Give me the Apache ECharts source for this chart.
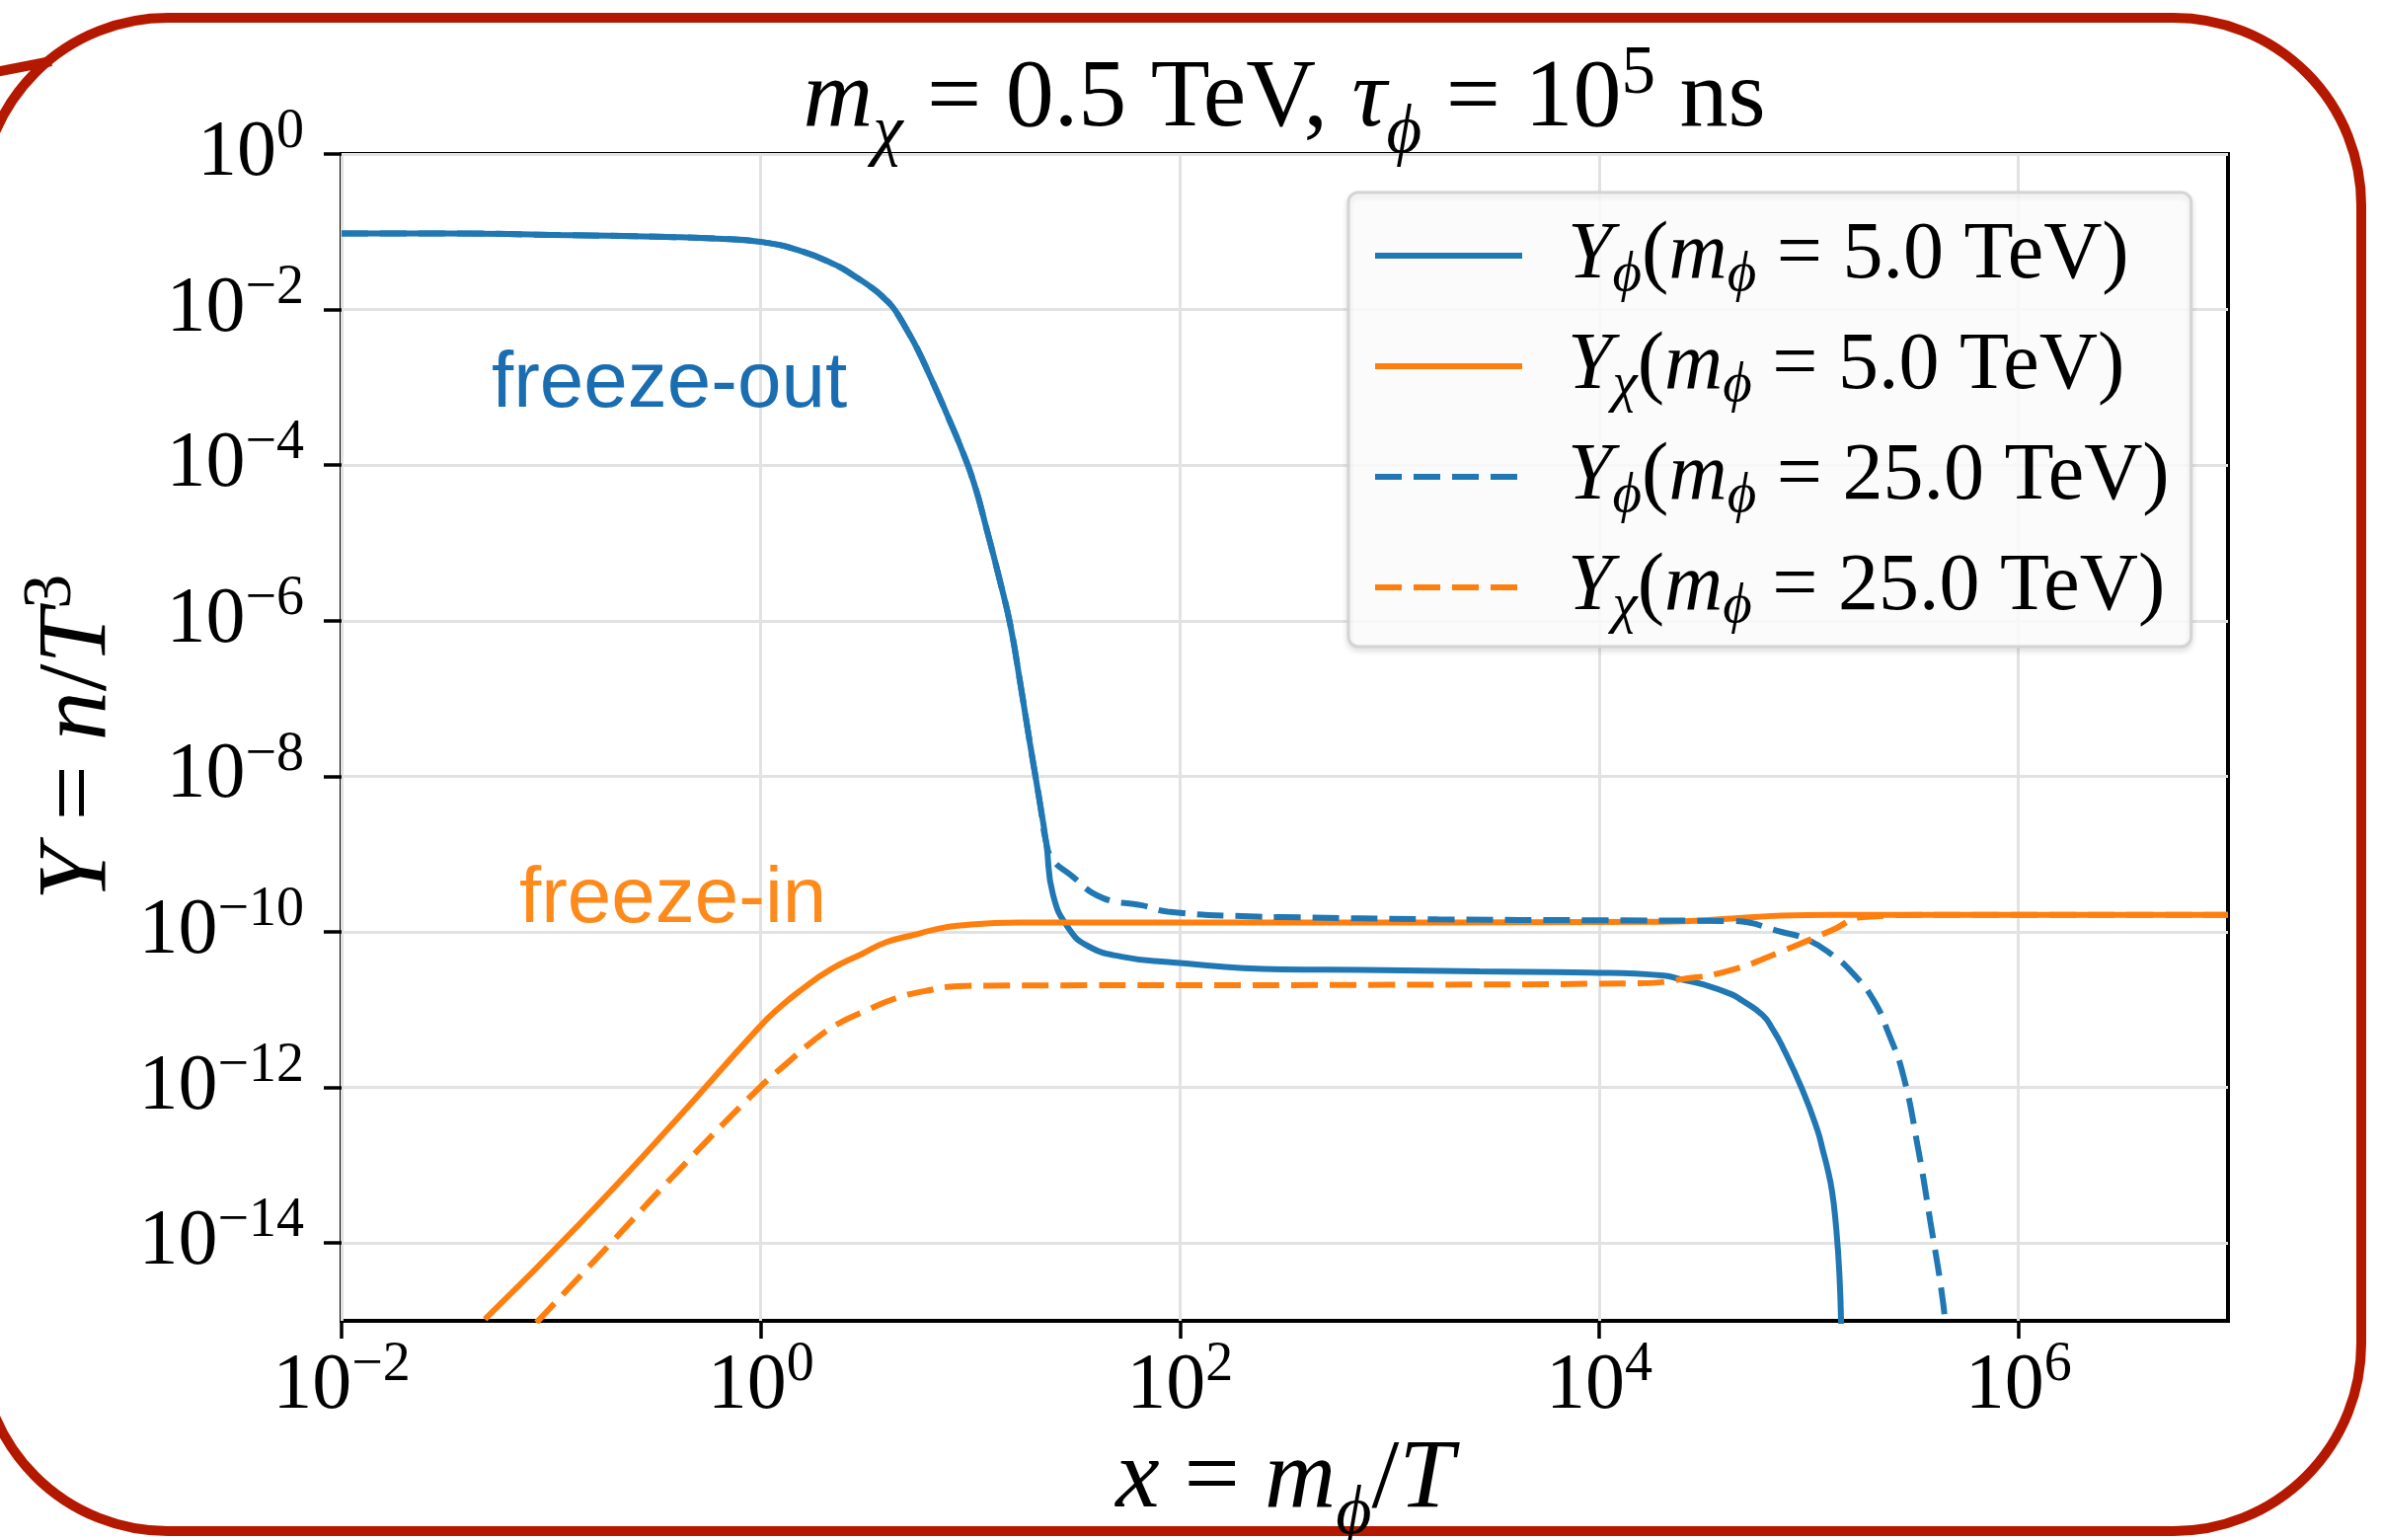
<!DOCTYPE html>
<html>
<head>
<meta charset="utf-8">
<script src="https://cdn.jsdelivr.net/npm/echarts@6/dist/echarts.min.js"></script>
<style>html,body{margin:0;padding:0;background:#fff}#chart{width:2412px;height:1560px}</style>
</head>
<body>
<div id="chart"></div>
<script>
// ---- data (x = m_phi/T, Y = n/T^3) ----
const phi5X = [0.01, 0.0316, 0.1, 0.355, 0.66, 1.0, 1.51, 2.29, 2.8, 3.47, 3.9, 4.27, 4.57, 5.0, 5.62, 6.31, 7.08, 7.94, 8.91, 10.4, 12.0, 13.9, 15.5, 17.2, 19.2, 21.4, 23.0, 24.8, 29.5, 36.7, 52.7, 87.5, 309, 741, 2690, 8900, 2.04e4, 2.45e4, 3.09e4, 4.27e4, 4.79e4, 6.03e4, 6.76e4, 7.41e4, 9.33e4, 1.1e5, 1.17e5, 1.23e5, 1.29e5, 1.34e5, 1.40e5, 1.43e5];
const phi5Y = [0.0955, 0.0955, 0.0912, 0.0861, 0.0813, 0.0741, 0.0582, 0.0372, 0.0269, 0.0182, 0.0138, 0.0107, 8.13e-3, 5.37e-3, 3.02e-3, 1.55e-3, 7.76e-4, 3.8e-4, 1.82e-4, 5.9e-5, 1.45e-5, 3.1e-6, 8.9e-7, 1.74e-7, 2.75e-8, 4.8e-9, 1.41e-9, 3.0e-10, 1.1e-10, 6.5e-11, 4.8e-11, 4.1e-11, 3.3e-11, 3.24e-11, 3.1e-11, 3.0e-11, 2.75e-11, 2.45e-11, 2.14e-11, 1.58e-11, 1.32e-11, 8.5e-12, 5.5e-12, 3.55e-12, 9.3e-13, 2.82e-13, 1.51e-13, 8.9e-14, 4.7e-14, 2.0e-14, 4.0e-15, 6e-16];

const chi5X = [0.0483, 0.136, 0.385, 0.98, 1.245, 1.535, 2.16, 3.06, 3.98, 5.32, 6.76, 8.63, 17.2, 195, 2.0e4, 4.27e4, 7.4e4, 1.29e5, 1e7];
const chi5Y = [1.05e-15, 1.74e-14, 3.55e-13, 5.9e-12, 1.1e-11, 1.74e-11, 3.3e-11, 5.25e-11, 7.4e-11, 9.1e-11, 1.07e-10, 1.2e-10, 1.32e-10, 1.32e-10, 1.35e-10, 1.48e-10, 1.62e-10, 1.66e-10, 1.66e-10];

const phi25X = [0.01, 0.0316, 0.1, 0.355, 0.66, 1.0, 1.51, 2.29, 2.8, 3.47, 3.9, 4.27, 4.57, 5.0, 5.62, 6.31, 7.08, 7.94, 8.91, 10.4, 12.0, 13.9, 15.5, 17.2, 19.2, 21.4, 23.0, 24.7, 29.6, 42.5, 66, 87.5, 214, 309, 1700, 1e4, 4.27e4, 7.41e4, 9.89e4, 1.29e5, 1.62e5, 2.04e5, 2.4e5, 2.82e5, 3.31e5, 3.8e5, 4.37e5, 4.52e5];
const phi25Y = [0.0955, 0.0955, 0.0912, 0.0861, 0.0813, 0.0741, 0.0582, 0.0372, 0.0269, 0.0182, 0.0138, 0.0107, 8.13e-3, 5.37e-3, 3.02e-3, 1.55e-3, 7.76e-4, 3.8e-4, 1.82e-4, 5.9e-5, 1.45e-5, 3.1e-6, 8.9e-7, 1.74e-7, 2.75e-8, 4.8e-9, 1.41e-9, 8.5e-10, 5.6e-10, 2.75e-10, 2.19e-10, 1.82e-10, 1.58e-10, 1.55e-10, 1.45e-10, 1.41e-10, 1.38e-10, 1.0e-10, 7.9e-11, 5.1e-11, 2.95e-11, 1.32e-11, 5.0e-12, 1.45e-12, 1.74e-13, 1.9e-14, 1.74e-15, 6e-16];

const chi25X = [0.0851, 0.193, 0.385, 0.98, 1.32, 1.78, 2.34, 3.06, 4.34, 6.11, 8.71, 12.2, 1000, 1.58e4, 2.45e4, 4.27e4, 7.41e4, 1.29e5, 1.82e5, 3.89e5, 1e7];
const chi25Y = [9.5e-16, 1.0e-14, 7.4e-14, 9.8e-13, 2.0e-12, 3.98e-12, 6.6e-12, 9.3e-12, 1.38e-11, 1.74e-11, 2.0e-11, 2.04e-11, 2.09e-11, 2.19e-11, 2.45e-11, 3.24e-11, 5.6e-11, 1.05e-10, 1.55e-10, 1.66e-10, 1.66e-10];

const xTicks = [1e-2, 1e0, 1e2, 1e4, 1e6];
const yTicks = [1e-14, 1e-12, 1e-10, 1e-8, 1e-6, 1e-4, 1e-2, 1e0];
const seriesNames = ['Yphi5', 'Ychi5', 'Yphi25', 'Ychi25'];
const legendLabels = {
  Yphi5: '{g| }{i|Y}{sb|ϕ}{n|(}{i|m}{sb|ϕ}{n| = 5.0 TeV)}',
  Ychi5: '{g| }{i|Y}{sb|χ}{n|(}{i|m}{sb|ϕ}{n| = 5.0 TeV)}',
  Yphi25: '{g| }{i|Y}{sb|ϕ}{n|(}{i|m}{sb|ϕ}{n| = 25.0 TeV)}',
  Ychi25: '{g| }{i|Y}{sb|χ}{n|(}{i|m}{sb|ϕ}{n| = 25.0 TeV)}'
};
// ---------------------------------------------------------------

const SERIF = "'Liberation Serif', 'DejaVu Serif', serif";
const SANS = "'Liberation Sans', Arial, sans-serif";
const BLUE = '#1f77b4', ORANGE = '#ff7f0e';

const pairs = (xs, ys) => xs.map((x, i) => [x, ys[i]]);
const expLabel = v => {
  const e = Math.round(Math.log10(v));
  return '{b|10}{s|' + (e < 0 ? '\u2212' + (-e) : String(e)) + '}';
};
const T = (size, lh, extra) => Object.assign({fontFamily: SERIF, fontSize: size, lineHeight: lh, fontWeight: 'normal', color: '#000'}, extra || {});
const tickRich = {
  b: T(80, 99),
  s: T(56, 56, {verticalAlign: 'top'})
};
const titleRich = {
  i: T(98, 137, {fontStyle: 'italic'}),
  n: T(98, 137),
  sb: T(69, 69, {fontStyle: 'italic', verticalAlign: 'bottom'}),
  sp: T(69, 69, {verticalAlign: 'top', padding: [8, 0, 0, 0]})
};
const xNameRich = {
  i: T(100, 140, {fontStyle: 'italic'}),
  n: T(100, 140),
  sb: T(70, 70, {fontStyle: 'italic', verticalAlign: 'bottom'})
};
const yNameRich = {
  i: T(100, 124, {fontStyle: 'italic'}),
  n: T(100, 124),
  sp: T(70, 70, {verticalAlign: 'top'})
};
const legendRich = {
  g: T(20, 20, {width: 41}),
  i: T(82, 98, {fontStyle: 'italic'}),
  n: T(82, 98),
  sb: T(57, 40, {fontStyle: 'italic', verticalAlign: 'bottom'})
};

const styles = [
  {color: BLUE, type: 'solid'},
  {color: ORANGE, type: 'solid'},
  {color: BLUE, type: [27, 12]},
  {color: ORANGE, type: [27, 12]}
];
const dataSets = [pairs(phi5X, phi5Y), pairs(chi5X, chi5Y), pairs(phi25X, phi25Y), pairs(chi25X, chi25Y)];

const chart = echarts.init(document.getElementById('chart'), null, {renderer: 'canvas'});
chart.setOption({
  backgroundColor: '#fff',
  animation: false,
  title: {
    text: '{i|m}{sb|χ}{n| = 0.5 TeV, }{i|τ}{sb|ϕ}{n| = 10}{sp|5}{n| ns}',
    left: 1301, top: 33, textAlign: 'center', padding: 0,
    textStyle: {fontWeight: 'normal', rich: titleRich}
  },
  grid: {left: 346, top: 156, right: 155, bottom: 222, outerBoundsMode: 'none', containLabel: false,
    show: true, borderColor: '#000', borderWidth: 4, backgroundColor: 'transparent'},
  xAxis: {
    type: 'log', logBase: 10, min: 1e-2, max: 1e7,
    name: '{i|x}{n| = }{i|m}{sb|ϕ}{n|/}{i|T}', nameLocation: 'middle', nameGap: 76,
    nameTextStyle: {rich: xNameRich},
    axisLine: {show: false},
    axisTick: {show: true, length: 18, lineStyle: {color: '#000', width: 3.5}, customValues: xTicks},
    minorTick: {show: false},
    axisLabel: {margin: 17, formatter: expLabel, rich: tickRich, customValues: xTicks},
    splitLine: {show: true, lineStyle: {color: '#e2e2e2', width: 3}}
  },
  yAxis: {
    type: 'log', logBase: 10, min: 1e-15, max: 1,
    name: '{i|Y}{n| = }{i|n}{n|/}{i|T}{sp|3}', nameLocation: 'middle', nameGap: 203,
    nameTextStyle: {rich: yNameRich},
    axisLine: {show: false},
    axisTick: {show: true, length: 18, lineStyle: {color: '#000', width: 3.5}, customValues: yTicks},
    minorTick: {show: false},
    axisLabel: {margin: 38, formatter: expLabel, rich: tickRich, customValues: yTicks},
    splitLine: {show: true, lineStyle: {color: '#e2e2e2', width: 3}}
  },
  legend: {
    orient: 'vertical', left: 1366, top: 195,
    padding: [23, 22, 11, 24], itemGap: 22, itemWidth: 149, itemHeight: 98,
    data: seriesNames,
    formatter: name => legendLabels[name],
    textStyle: {rich: legendRich},
    itemStyle: {opacity: 0},
    lineStyle: {width: 6},
    backgroundColor: 'rgba(255,255,255,0.85)', borderColor: '#d4d4d4', borderWidth: 3, borderRadius: 10,
    shadowBlur: 6, shadowColor: 'rgba(0,0,0,0.12)', shadowOffsetY: 3
  },
  series: seriesNames.map((n, k) => ({
    name: n, type: 'line', data: dataSets[k], symbol: 'none', smooth: 0.5, clip: true,
    lineStyle: {color: styles[k].color, type: styles[k].type, width: 6, cap: 'butt'},
    itemStyle: {color: styles[k].color},
    z: 3
  })),
  graphic: [
    {type: 'rect', shape: {x: -20, y: 18, width: 2412, height: 1533, r: 190}, style: {fill: 'none', stroke: '#b41900', lineWidth: 10}, z: -1, silent: true},
    {type: 'line', shape: {x1: -5, y1: 73, x2: 52, y2: 62}, style: {stroke: '#b41900', lineWidth: 10}, z: -1, silent: true},
    {type: 'text', x: 498, y: 390, style: {text: 'freeze-out', fontFamily: SANS, fontSize: 80, fill: '#1a6db0', align: 'left', verticalAlign: 'middle'}, z: 10},
    {type: 'text', x: 526, y: 912, style: {text: 'freeze-in', fontFamily: SANS, fontSize: 80, fill: '#ff8a1c', align: 'left', verticalAlign: 'middle'}, z: 10}
  ]
});
</script>
</body>
</html>
